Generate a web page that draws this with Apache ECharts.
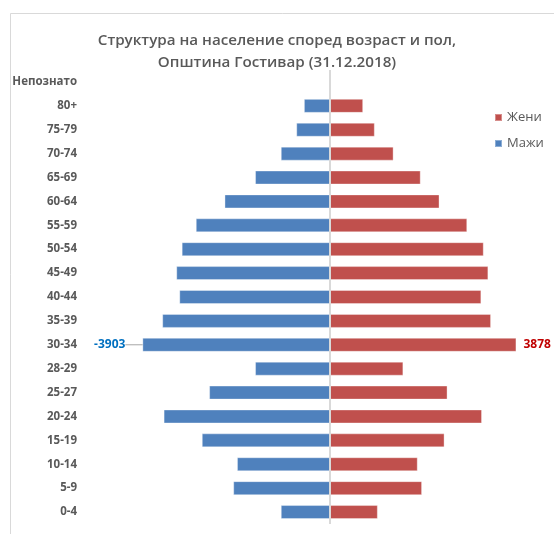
<!DOCTYPE html>
<html>
<head>
<meta charset="utf-8">
<script src="https://cdn.jsdelivr.net/npm/echarts@6/dist/echarts.min.js"></script>
<style>
  html, body { margin: 0; padding: 0; background: #fff; }
  #chart { width: 554px; height: 534px; }
</style>
</head>
<body>
<div id="chart"></div>
<script>
// Age groups, top to bottom
const ageGroups = ['Непознато', '80+', '75-79', '70-74', '65-69', '60-64', '55-59', '50-54',
  '45-49', '40-44', '35-39', '30-34', '28-29', '25-27', '20-24', '15-19', '10-14', '5-9', '0-4'];

// Men (drawn to the left as negative values)
const men = [null, -543, -702, -1024, -1559, -2195, -2792, -3085,
  -3198, -3135, -3490, -3903, -1559, -2514, -3461, -2667, -1935, -2013, -1024];

// Women
const women = [null, 690, 932, 1323, 1887, 2278, 2855, 3198,
  3294, 3148, 3350, 3878, 1526, 2445, 3162, 2383, 1825, 1915, 995];

// Only the largest group carries a value label
const labelledGroup = '30-34';
const labelledIndex = ageGroups.indexOf(labelledGroup);

const titleLines = ['Структура на население според возраст и пол,', 'Општина Гостивар (31.12.2018)'];

const FONT = '"Open Sans", "DejaVu Sans", sans-serif';
const BLUE = '#4F81BD';
const RED = '#C0504D';

function buildData(values, label) {
  return values.map((v, i) => (i === labelledIndex ? { value: v, label: label } : v));
}

const chart = echarts.init(document.getElementById('chart'), null, { renderer: 'canvas' });

chart.setOption({
  animation: false,
  backgroundColor: '#fff',
  title: {
    text: titleLines.join('\n'),
    left: 'center',
    top: 25,
    textStyle: {
      fontFamily: FONT,
      fontSize: 15.2,
      fontWeight: 600,
      color: '#595959',
      lineHeight: 22
    }
  },
  graphic: [{
    type: 'rect',
    shape: { x: 10.5, y: 13.5, width: 600, height: 600 },
    style: { fill: 'none', stroke: '#D9D9D9', lineWidth: 1 },
    silent: true
  }],
  legend: {
    data: ['Жени', 'Мажи'],
    orient: 'vertical',
    left: 489,
    top: 106,
    icon: 'rect',
    itemWidth: 7,
    itemHeight: 7,
    itemGap: 13,
    textStyle: { fontFamily: FONT, fontSize: 13, color: '#595959' }
  },
  grid: { left: 130, right: 24, top: 70, bottom: 10 },
  xAxis: {
    type: 'value',
    min: -4160,
    max: 4160,
    axisLine: { show: false },
    axisTick: { show: false },
    axisLabel: { show: false },
    splitLine: { show: false }
  },
  yAxis: {
    type: 'category',
    data: ageGroups,
    inverse: true,
    axisLine: { show: false },
    axisTick: { show: false },
    axisLabel: {
      margin: 53,
      fontFamily: FONT,
      fontSize: 11.5,
      fontWeight: 'bold',
      color: '#595959'
    }
  },
  series: [
    {
      name: 'Мажи',
      type: 'bar',
      barWidth: 14,
      barGap: '-100%',
      itemStyle: { color: BLUE, borderColor: 'rgba(255,255,255,0.35)', borderWidth: 1 },
      data: buildData(men, {
        show: true,
        position: 'left',
        distance: 5,
        fontFamily: FONT,
        fontSize: 12,
        fontWeight: 'bold',
        color: '#0070C0'
      }),
      // pull the value label away from the bar and join them with a short leader
      labelLayout: function (params) {
        return params.dataIndex === labelledIndex ? { dx: -12 } : {};
      },
      labelLine: { show: true, length2: 0, lineStyle: { color: '#A6A6A6', width: 1 } },
      markLine: {
        silent: true,
        symbol: ['none', 'none'],
        label: { show: false },
        lineStyle: { color: '#D9D9D9', width: 2, type: 'solid' },
        data: [{ xAxis: 0 }]
      }
    },
    {
      name: 'Жени',
      type: 'bar',
      barWidth: 14,
      itemStyle: { color: RED, borderColor: 'rgba(255,255,255,0.35)', borderWidth: 1 },
      data: buildData(women, {
        show: true,
        position: 'right',
        distance: 7,
        fontFamily: FONT,
        fontSize: 12,
        fontWeight: 'bold',
        color: '#C00000'
      })
    }
  ]
});
</script>
</body>
</html>
